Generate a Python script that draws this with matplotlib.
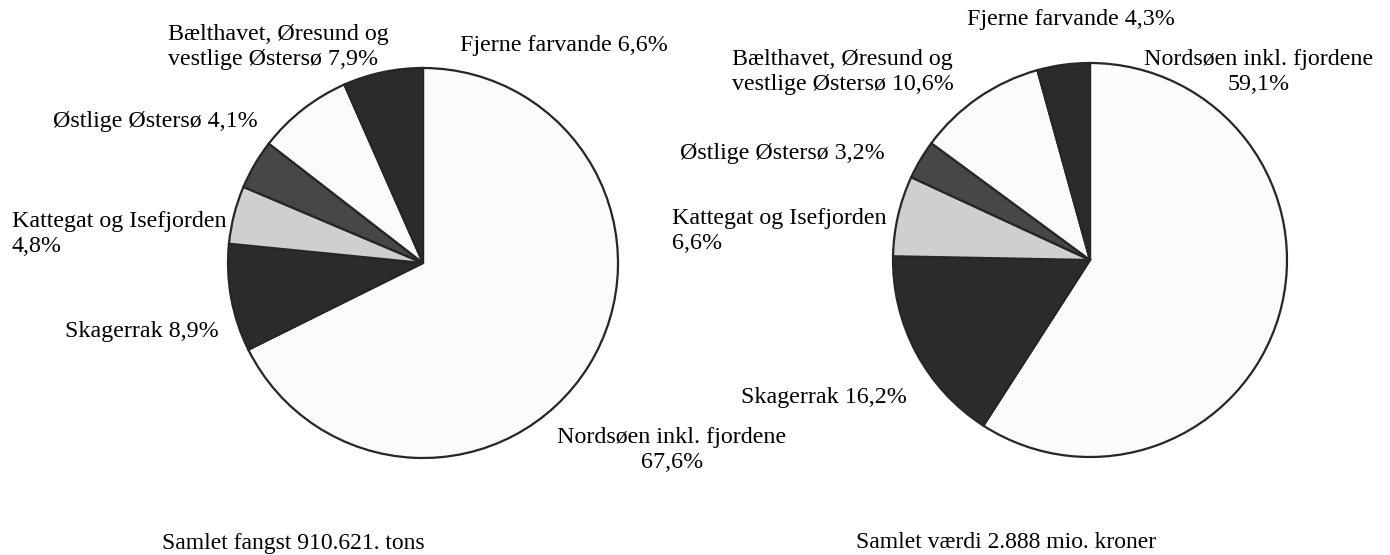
import matplotlib.pyplot as plt

# Data: andel af fangst (tons) og værdi (kroner) fordelt på farvand
omraader = ['Nordsøen inkl. fjordene', 'Skagerrak', 'Kattegat og Isefjorden',
            'Østlige Østersø', 'Bælthavet, Øresund og vestlige Østersø', 'Fjerne farvande']
fangst_pct = [67.6, 8.9, 4.8, 4.1, 7.9, 6.6]
vaerdi_pct = [59.1, 16.2, 6.6, 3.2, 10.6, 4.3]
farver = ['#fbfbfb', '#2b2b2b', '#cfcfcf', '#474747', '#fbfbfb', '#2b2b2b']

plt.rcParams['font.family'] = ['Liberation Serif', 'DejaVu Serif']

W, H = 1390, 555
fig = plt.figure(figsize=(W / 100, H / 100), dpi=100)
ax = fig.add_axes([0, 0, 1, 1])


def Y(y):
    # billedkoordinat (fra toppen) -> akse
    return H - y


def pct(v):
    return f'{v:.1f}'.replace('.', ',') + '%'


wp = dict(edgecolor='#262626', linewidth=1.6)
ax.pie(fangst_pct, colors=farver, startangle=90, counterclock=False,
       center=(423, Y(263)), radius=195, wedgeprops=wp, frame=True)
ax.pie(vaerdi_pct, colors=farver, startangle=90, counterclock=False,
       center=(1090, Y(260)), radius=197, wedgeprops=wp, frame=True)
ax.set_xlim(0, W)
ax.set_ylim(0, H)
ax.set_aspect('equal')
ax.axis('off')

fs = 17.3
ls = 1.22

# venstre lagkage
ax.text(460, Y(46), f'{omraader[5]} {pct(fangst_pct[5])}', fontsize=fs, ha='left', va='center')
ax.text(168, Y(47), f'Bælthavet, Øresund og\nvestlige Østersø {pct(fangst_pct[4])}',
        fontsize=fs, ha='left', va='center', linespacing=ls)
ax.text(53, Y(122), f'{omraader[3]} {pct(fangst_pct[3])}', fontsize=fs, ha='left', va='center')
ax.text(12, Y(234), f'{omraader[2]}\n{pct(fangst_pct[2])}', fontsize=fs, ha='left', va='center',
        linespacing=ls)
ax.text(219, Y(331), f'{omraader[1]} {pct(fangst_pct[1])}', fontsize=fs, ha='right', va='center')
ax.text(672, Y(450), f'{omraader[0]}\n{pct(fangst_pct[0])}', fontsize=fs, ha='center', va='center',
        multialignment='center', linespacing=ls)

# højre lagkage
ax.text(967, Y(20), f'{omraader[5]} {pct(vaerdi_pct[5])}', fontsize=fs, ha='left', va='center')
ax.text(1259, Y(72), f'{omraader[0]}\n{pct(vaerdi_pct[0])}', fontsize=fs, ha='center', va='center',
        multialignment='center', linespacing=ls)
ax.text(732, Y(72), f'Bælthavet, Øresund og\nvestlige Østersø {pct(vaerdi_pct[4])}',
        fontsize=fs, ha='left', va='center', linespacing=ls)
ax.text(680, Y(153), f'{omraader[3]} {pct(vaerdi_pct[3])}', fontsize=fs, ha='left', va='center')
ax.text(672, Y(231), f'{omraader[2]}\n{pct(vaerdi_pct[2])}', fontsize=fs, ha='left', va='center',
        linespacing=ls)
ax.text(907, Y(397), f'{omraader[1]} {pct(vaerdi_pct[1])}', fontsize=fs, ha='right', va='center')

# totaler
ax.text(293, Y(543), 'Samlet fangst 910.621. tons', fontsize=17, ha='center', va='center')
ax.text(1006, Y(543), 'Samlet værdi 2.888 mio. kroner', fontsize=17, ha='center', va='center')

fig.savefig('out.png', dpi=100, facecolor='white')
